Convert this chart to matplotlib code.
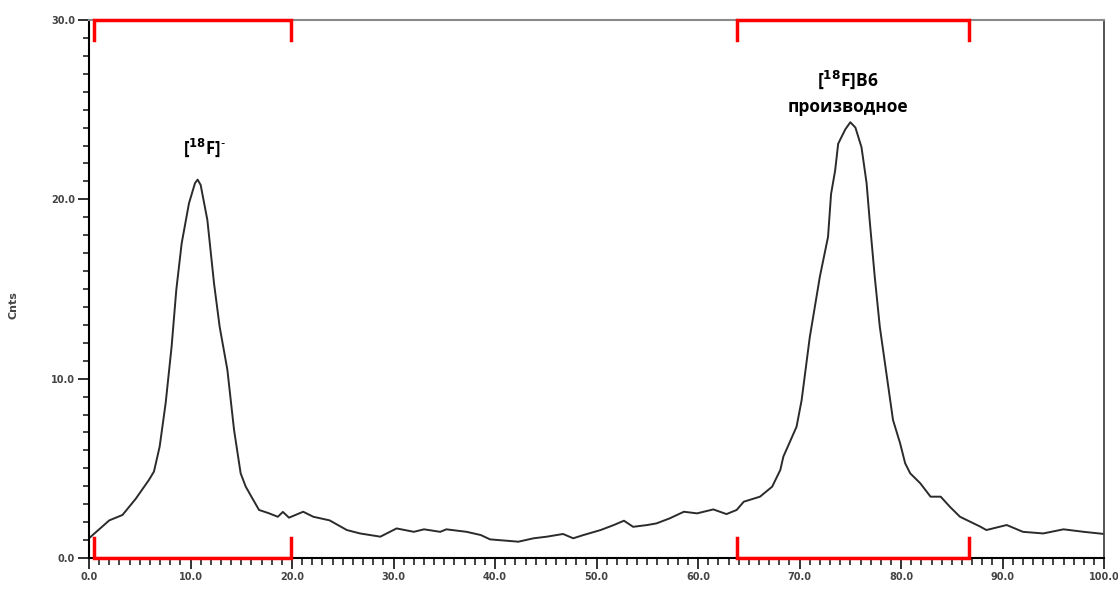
import numpy as np
import matplotlib
matplotlib.use("Agg")
import matplotlib.pyplot as plt
from matplotlib.ticker import MultipleLocator, FormatStrFormatter

# trace
pos = [0, 1.0, 2.0, 3.3, 4.6, 5.9, 6.4, 6.96, 7.55, 8.14, 8.6, 9.13, 9.85, 10.44, 10.7,
       11.0, 11.66, 12.32, 12.87, 13.63, 14.29, 14.94, 15.44, 16.09, 16.75, 17.7, 18.6,
       19.1, 19.7, 21.1, 22.1, 23.7, 25.4, 26.7, 28.7, 30.3, 32.0, 33.0, 34.6, 35.2,
       37.2, 38.6, 39.5, 42.3, 43.8, 45.1, 46.7, 47.7, 48.7, 50.4, 51.7, 52.7, 53.6,
       55.0, 55.9, 57.2, 58.6, 59.9, 61.5, 62.8, 63.8, 64.5, 66.1, 67.3, 68.1, 68.4,
       69.7, 70.2, 71.0, 72.0, 72.8, 73.1, 73.5, 73.8, 74.5, 75.0, 75.5, 76.1, 76.6,
       76.9, 77.4, 77.9, 78.6, 79.2, 79.9, 80.4, 80.9, 81.9, 82.9, 83.9, 84.8, 85.8,
       87.8, 88.4, 90.4, 92.0, 94.0, 96.0, 98.0, 100.0]
cnts = [1.1, 1.6, 2.1, 2.4, 3.3, 4.35, 4.82, 6.21, 8.63, 11.8, 14.95, 17.55, 19.78, 20.9,
        21.1, 20.8, 18.85, 15.3, 12.9, 10.5, 7.14, 4.72, 3.98, 3.33, 2.68, 2.5, 2.3,
        2.57, 2.25, 2.58, 2.3, 2.1, 1.56, 1.37, 1.19, 1.65, 1.46, 1.6, 1.46, 1.6,
        1.46, 1.28, 1.04, 0.91, 1.1, 1.19, 1.34, 1.1, 1.28, 1.56, 1.84, 2.08, 1.74,
        1.84, 1.93, 2.21, 2.58, 2.49, 2.71, 2.45, 2.68, 3.14, 3.42, 3.98, 4.91, 5.65,
        7.32, 8.8, 12.3, 15.7, 17.9, 20.3, 21.6, 23.1, 23.9, 24.3, 24.0, 22.9, 20.9,
        18.85, 15.7, 12.9, 10.1, 7.7, 6.4, 5.28, 4.72, 4.16, 3.42, 3.42, 2.86, 2.3,
        1.75, 1.56, 1.84, 1.46, 1.37, 1.6, 1.46, 1.34]

# integration regions (start, end)
regions = [(0.5, 19.9), (63.8, 86.7)]

fig = plt.figure(figsize=(11.18, 5.97), dpi=100)
ax = fig.add_axes([0.0796, 0.0653, 0.908, 0.9012])

ax.plot(pos, cnts, color='#2b2b2b', linewidth=1.4)

for a, b in regions:
    ax.plot([a, a, b, b], [28.9, 30, 30, 28.9], color='#ff0000', linewidth=2.5,
            clip_on=False, solid_joinstyle='miter', zorder=5)
    ax.plot([a, a, b, b], [1.1, 0, 0, 1.1], color='#ff0000', linewidth=2.5,
            clip_on=False, solid_joinstyle='miter', zorder=5)

ax.text(11.4, 22.9, r'[$^{\mathbf{18}}$F]$^{\text{-}}$', ha='center', va='center',
        fontsize=12, fontweight='bold', family='Open Sans')
ax.text(74.8, 26.65, r'[$^{\mathbf{18}}$F]B6', ha='center', va='center',
        fontsize=12.5, fontweight='bold', family='Open Sans')
ax.text(74.8, 25.15, 'производное', ha='center', va='center',
        fontsize=12.5, fontweight='bold', family='Open Sans')

ax.set_xlim(0, 100)
ax.set_ylim(0, 30)
ax.xaxis.set_major_locator(MultipleLocator(10))
ax.xaxis.set_minor_locator(MultipleLocator(1))
ax.yaxis.set_major_locator(MultipleLocator(10))
ax.yaxis.set_minor_locator(MultipleLocator(1))
ax.xaxis.set_major_formatter(FormatStrFormatter('%.1f'))
ax.yaxis.set_major_formatter(FormatStrFormatter('%.1f'))
ax.tick_params(which='major', length=8, width=1.3, colors='#222222',
               labelsize=7, labelcolor='#444444', pad=2)
ax.tick_params(which='minor', length=5, width=1.2, colors='#222222')
ax.tick_params(axis='y', which='minor', length=4)
for lab in ax.get_xticklabels() + ax.get_yticklabels():
    lab.set_fontweight('bold')

ax.spines['left'].set_linewidth(1.5)
ax.spines['bottom'].set_linewidth(1.5)
ax.spines['top'].set_color('#8a8a8a')
ax.spines['right'].set_color('#444444')
ax.spines['top'].set_linewidth(1.5)
ax.spines['right'].set_linewidth(1.3)

ax.set_ylabel('Cnts', fontsize=8, color='#444444', fontweight='bold')
ax.yaxis.set_label_coords(-0.069, 0.47)

fig.savefig('out.png', dpi=100)
